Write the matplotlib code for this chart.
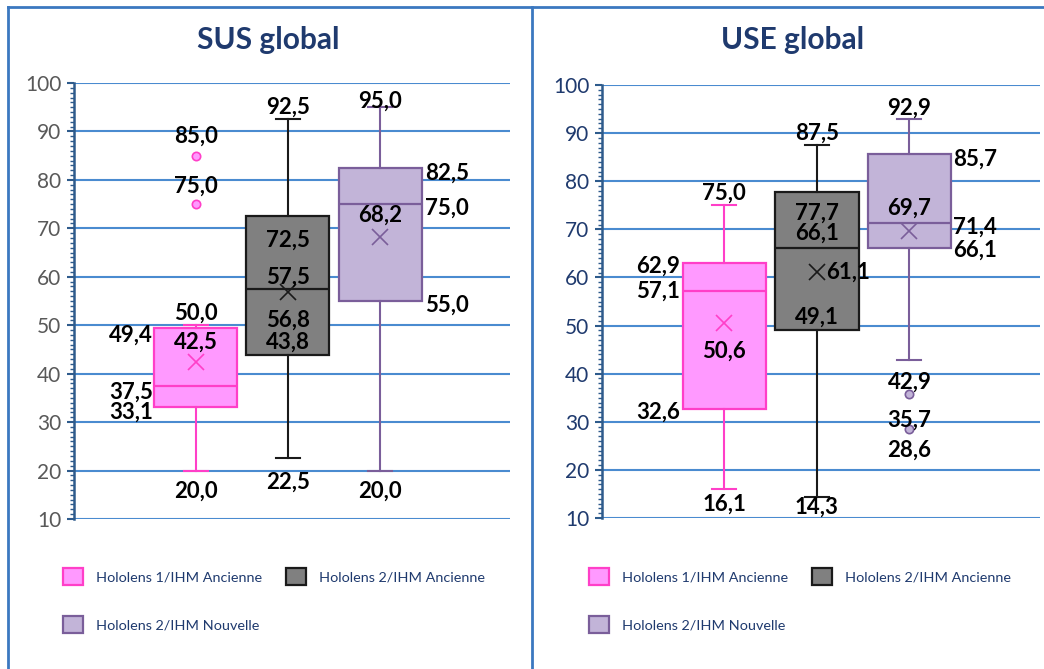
import matplotlib.pyplot as plt
from matplotlib.lines import Line2D
from matplotlib.ticker import MultipleLocator

# Groups compared in both questionnaires
groups = ['Hololens 1/IHM Ancienne', 'Hololens 2/IHM Ancienne', 'Hololens 2/IHM Nouvelle']

# SUS global scores (box-and-whisker statistics per group)
sus_min = [20.0, 22.5, 20.0]
sus_q1 = [33.1, 43.8, 55.0]
sus_med = [37.5, 57.5, 75.0]
sus_mean = [42.5, 56.8, 68.2]
sus_q3 = [49.4, 72.5, 82.5]
sus_max = [50.0, 92.5, 95.0]
sus_out = [[85.0, 75.0], [], []]

# USE global scores
use_min = [16.1, 14.3, 42.9]
use_q1 = [32.6, 49.1, 66.1]
use_med = [57.1, 66.1, 71.4]
use_mean = [50.6, 61.1, 69.7]
use_q3 = [62.9, 77.7, 85.7]
use_max = [75.0, 87.5, 92.9]
use_out = [[], [], [35.7, 28.6]]

fills = ['#ff99ff', '#808080', '#c2b4d8']
edges = ['#ff3fc8', '#1a1a1a', '#7a5e9a']
grid_blue = '#4a8bd0'
navy = '#1f3a6e'

# label placement: (stat, ha, dx, dy) in pixels, per group
sus_layout = [
    [('whishi', 'center', 0, 12), ('q3', 'right', -43, -7), ('mean', 'center', 0, 19),
     ('med', 'right', -43, -6), ('q1', 'right', -43, -5), ('whislo', 'center', 0, -21),
     ('fl0', 'center', 0, 19), ('fl1', 'center', 0, 18)],
    [('whishi', 'center', 0, 12), ('q3', 'center', 0, -24), ('med', 'center', 0, 12),
     ('mean', 'center', 0, -28), ('q1', 'center', 0, 13), ('whislo', 'center', 0, -24)],
    [('whishi', 'center', 0, 6), ('q3', 'left', 45, -5), ('med', 'left', 45, -4),
     ('mean', 'center', 0, 22), ('q1', 'left', 45, -4), ('whislo', 'center', 0, -21)],
]
use_layout = [
    [('whishi', 'center', 0, 12), ('q3', 'right', -44, -3), ('med', 'right', -44, 0),
     ('mean', 'center', 0, -29), ('q1', 'right', -44, -3), ('whislo', 'center', 0, -16)],
    [('whishi', 'center', 0, 12), ('q3', 'center', 0, -21), ('med', 'center', 0, 15),
     ('mean', 'left', 9, 0), ('q1', 'center', 0, 13), ('whislo', 'center', 0, -10)],
    [('whishi', 'center', 0, 11), ('q3', 'left', 44, -5), ('mean', 'center', 0, 23),
     ('med', 'left', 44, -5), ('q1', 'left', 44, -2), ('whislo', 'center', 0, -22),
     ('fl0', 'center', 0, -26), ('fl1', 'center', 0, -22)],
]


def make_stats(mins, q1s, meds, means, q3s, maxs, outs):
    stats = []
    for i in range(len(groups)):
        stats.append(dict(whislo=mins[i], q1=q1s[i], med=meds[i], mean=means[i],
                          q3=q3s[i], whishi=maxs[i], fliers=outs[i], label=groups[i]))
    return stats


def fmt(v):
    return f'{v:.1f}'.replace('.', ',')


def draw_panel(ax, stats, layout, tick_color):
    bp = ax.bxp(stats, positions=[1, 2, 3], widths=0.9, capwidths=0.26,
                showmeans=True, patch_artist=True, zorder=3)
    for i in range(3):
        bp['boxes'][i].set(facecolor=fills[i], edgecolor=edges[i], linewidth=1.6)
        bp['medians'][i].set(color=edges[i], linewidth=1.6)
        for ln in bp['whiskers'][2 * i:2 * i + 2] + bp['caps'][2 * i:2 * i + 2]:
            ln.set(color=edges[i], linewidth=1.5)
        bp['means'][i].set(marker='x', markersize=11, markeredgecolor=edges[i],
                           markeredgewidth=1.2)
        bp['fliers'][i].set(marker='o', markersize=6, markerfacecolor=fills[i],
                            markeredgecolor=edges[i], markeredgewidth=1.2)

    # data labels
    for i, entries in enumerate(layout):
        st = stats[i]
        for key, ha, dx, dy in entries:
            val = st['fliers'][int(key[2])] if key.startswith('fl') else st[key]
            ax.annotate(fmt(val), (i + 1, val), xytext=(dx, dy), textcoords='offset pixels',
                        ha=ha, va='center', fontsize=16, fontweight='bold',
                        color='black', zorder=5)

    ax.set_xlim(-0.32, 4.41)
    ax.set_ylim(10, 100)
    ax.yaxis.set_major_locator(MultipleLocator(10))
    ax.yaxis.set_minor_locator(MultipleLocator(1))
    ax.grid(axis='y', color=grid_blue, linewidth=1.5, zorder=0)
    ax.set_axisbelow(True)
    for s in ['top', 'right', 'bottom']:
        ax.spines[s].set_visible(False)
    ax.spines['left'].set(color='#2e5b8c', linewidth=1.8)
    ax.set_xticks([])
    ax.tick_params(axis='y', which='major', length=5, width=1.5, color='#2e5b8c',
                   labelsize=15, labelcolor=tick_color, pad=4)
    ax.tick_params(axis='y', which='minor', length=3, width=1, color='#2e5b8c')
    return bp


plt.rcParams['font.family'] = ['Lato', 'DejaVu Sans']

W, H = 1044, 669
fig = plt.figure(figsize=(W / 100, H / 100), dpi=100)

ax1 = fig.add_axes([74 / W, (H - 519) / H, 436 / W, 436 / H])
ax2 = fig.add_axes([602 / W, (H - 518) / H, 438 / W, 433 / H])

bp1 = draw_panel(ax1, make_stats(sus_min, sus_q1, sus_med, sus_mean, sus_q3, sus_max, sus_out),
                 sus_layout, '#595959')
bp2 = draw_panel(ax2, make_stats(use_min, use_q1, use_med, use_mean, use_q3, use_max, use_out),
                 use_layout, navy)

fig.text(268 / W, 1 - 40 / H, 'SUS global', ha='center', va='center',
         fontsize=21.5, fontweight='bold', color=navy)
fig.text(793 / W, 1 - 40 / H, 'USE global', ha='center', va='center',
         fontsize=21.5, fontweight='bold', color=navy)

# legends: row 1 = first two groups, row 2 = third group
for bp, x0 in [(bp1, 63), (bp2, 589)]:
    b = bp['boxes']
    fig.legend([b[0], b[2], b[1]], [groups[0], groups[2], groups[1]], ncol=2,
               loc='upper left', bbox_to_anchor=(x0 / W, 1 - 568 / H),
               bbox_transform=fig.transFigure, frameon=False, borderpad=0,
               borderaxespad=0, fontsize=10.4, labelcolor=navy,
               handlelength=1.4, handleheight=1.4, handletextpad=0.85,
               columnspacing=1.7, labelspacing=2.2)

# panel frames
frame = '#3b78c0'
fig.add_artist(Line2D([7.5 / W, 7.5 / W], [0, 1 - 6.5 / H], color=frame, linewidth=2))
fig.add_artist(Line2D([7.5 / W, 1], [1 - 6.5 / H, 1 - 6.5 / H], color=frame, linewidth=2))
fig.add_artist(Line2D([532 / W, 532 / W], [0, 1 - 6.5 / H], color=frame, linewidth=2))

fig.savefig('out.png', dpi=100)
